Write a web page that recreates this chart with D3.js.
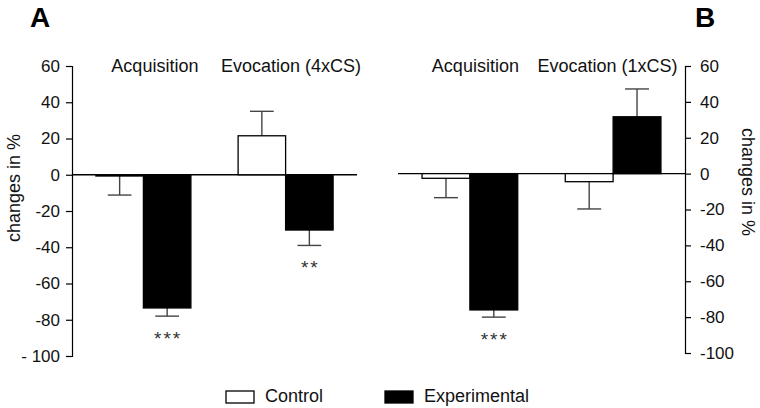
<!DOCTYPE html>
<html><head><meta charset="utf-8">
<script src="https://cdn.jsdelivr.net/npm/d3@7"></script>
<style>body{margin:0;background:#fff}svg{display:block}text{font-family:"Liberation Sans",Arial,sans-serif}</style>
</head><body><svg id="c" width="760" height="408"></svg>
<script>
// ---- data ----
const series = ["Control", "Experimental"];
const groupsA = ["Acquisition", "Evocation (4xCS)"];
const controlA = [-0.7, 21.5];
const controlErrA = [10.5, 13.5];
const experimentalA = [-73.5, -30.5];
const experimentalErrA = [4.5, 8.5];
const starsA = ["***", "**"];

const groupsB = ["Acquisition", "Evocation (1xCS)"];
const controlB = [-2.6, -4.5];
const controlErrB = [10.8, 15.2];
const experimentalB = [-76, 31.7];
const experimentalErrB = [4, 15.5];
const starsB = ["***", ""];

const yTicks = [60, 40, 20, 0, -20, -40, -60, -80, -100];
const yTickLabelsA = ["60", "40", "20", "0", "-20", "-40", "-60", "-80", "- 100"];
const yTickLabelsB = ["60", "40", "20", "0", "-20", "-40", "-60", "-80", "-100"];
const yDomain = [-100, 60];

const svg = d3.select("#c");

function panel(cfg) {
  const y = d3.scaleLinear().domain(yDomain).range([cfg.yBottom, cfg.yTop]);
  const x = d3.scaleBand().domain(cfg.groups).range(cfg.xRange)
    .paddingInner(0.332).paddingOuter(0.168);
  const xs = d3.scaleBand().domain(series).range([0, x.bandwidth()]);
  const g = svg.append("g");

  const rows = [];
  cfg.groups.forEach((grp, i) => {
    rows.push({grp, s: "Control", v: cfg.control[i], e: cfg.controlErr[i]});
    rows.push({grp, s: "Experimental", v: cfg.experimental[i], e: cfg.experimentalErr[i], star: cfg.stars[i]});
  });

  // zero line
  g.append("line").attr("x1", cfg.xRange[0]).attr("x2", cfg.xRange[1])
    .attr("y1", y(0)).attr("y2", y(0)).attr("stroke", "#000").attr("stroke-width", 1.3);

  // error bars
  rows.forEach(d => {
    const cx = x(d.grp) + xs(d.s) + xs.bandwidth() / 2;
    const sign = d.v >= 0 ? 1 : -1;
    const end = d.v + sign * d.e;
    g.append("line").attr("x1", cx).attr("x2", cx).attr("y1", y(d.v)).attr("y2", y(end))
      .attr("stroke", "#444").attr("stroke-width", 1.4);
    g.append("line").attr("x1", cx - xs.bandwidth() / 4).attr("x2", cx + xs.bandwidth() / 4)
      .attr("y1", y(end)).attr("y2", y(end)).attr("stroke", "#444").attr("stroke-width", 1.4);
    if (d.star) {
      g.append("text").attr("x", cx + 1).attr("y", y(end) + 29).attr("text-anchor", "middle")
        .attr("font-size", 19).attr("letter-spacing", 2).attr("fill", "#333").text(d.star);
    }
  });

  // bars
  g.selectAll("rect.bar").data(rows).join("rect").attr("class", "bar")
    .attr("x", d => x(d.grp) + xs(d.s))
    .attr("width", xs.bandwidth())
    .attr("y", d => y(Math.max(0, d.v)))
    .attr("height", d => Math.abs(y(d.v) - y(0)))
    .attr("fill", d => d.s === "Control" ? "#fff" : "#000")
    .attr("stroke", "#000").attr("stroke-width", 1.3);

  // group labels
  g.selectAll("text.grp").data(cfg.groups).join("text").attr("class", "grp")
    .attr("x", (d, i) => x(d) + x.bandwidth() / 2 + cfg.labelShift[i]).attr("y", cfg.yTop + 6)
    .attr("text-anchor", "middle").attr("font-size", 18).attr("fill", "#111").text(d => d);

  // axis
  const axis = (cfg.side === "left" ? d3.axisLeft(y) : d3.axisRight(y))
    .tickValues(yTicks).tickSize(6).tickPadding(cfg.tickPad)
    .tickFormat((d, i) => cfg.tickLabels[i]);
  const ag = g.append("g").attr("transform", `translate(${cfg.axisX},0)`).call(axis);
  ag.select(".domain").attr("stroke", "#000").attr("stroke-width", 1.2);
  ag.selectAll(".tick line").attr("stroke", "#000").attr("stroke-width", 1.2);
  ag.selectAll(".tick text").attr("font-size", 17).attr("fill", "#111")
    .attr("font-family", "Liberation Sans, Arial, sans-serif");

  // axis title
  g.append("text")
    .attr("transform", `translate(${cfg.titleX},${cfg.titleY}) rotate(${cfg.side === "left" ? -90 : 90})`)
    .attr("text-anchor", "middle").attr("dy", "0.35em").attr("font-size", 18).attr("fill", "#111")
    .text("changes in %");

  // panel letter
  svg.append("text").attr("x", cfg.letterX).attr("y", 27).attr("font-size", 28)
    .attr("font-weight", "bold").attr("font-family", "Carlito, Liberation Sans, Arial, sans-serif")
    .attr("fill", "#000").text(cfg.letter);
}

panel({groups: groupsA, control: controlA, controlErr: controlErrA, experimental: experimentalA,
  experimentalErr: experimentalErrA, stars: starsA, yTop: 66, yBottom: 356, xRange: [72, 357],
  side: "left", axisX: 72, tickPad: 6, tickLabels: yTickLabelsA, titleX: 14, titleY: 188,
  letter: "A", letterX: 30, labelShift: [11.5, 5.5]});
panel({groups: groupsB, control: controlB, controlErr: controlErrB, experimental: experimentalB,
  experimentalErr: experimentalErrB, stars: starsB, yTop: 66, yBottom: 353, xRange: [398, 685],
  side: "right", axisX: 685, tickPad: 9, tickLabels: yTickLabelsB, titleX: 748, titleY: 182,
  letter: "B", letterX: 695, labelShift: [5.5, -5.5]});

// legend
const legend = svg.append("g");
const legendX = [226, 385];
series.forEach((s, i) => {
  legend.append("rect").attr("x", legendX[i]).attr("y", 391).attr("width", 28).attr("height", 12)
    .attr("fill", s === "Control" ? "#fff" : "#000").attr("stroke", "#000").attr("stroke-width", 1.3);
  legend.append("text").attr("x", legendX[i] + 39).attr("y", 402).attr("font-size", 18)
    .attr("fill", "#111").text(s);
});
</script></body></html>
